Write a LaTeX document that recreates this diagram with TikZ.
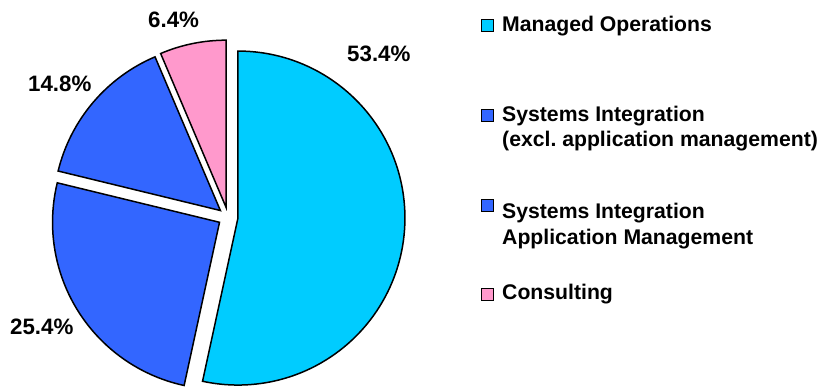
\documentclass[tikz,border=0pt]{standalone}
\usepackage{fontspec}
\setmainfont{Liberation Sans}
\usetikzlibrary{calc}
\definecolor{mocyan}{HTML}{00CCFF}
\definecolor{siblue}{HTML}{3366FF}
\definecolor{conpink}{HTML}{FF99CC}
\tikzset{
  slice/.style={draw=black, line width=1.5pt, line join=miter},
  pct/.style={font=\fontsize{22.3}{25}\selectfont\bfseries, anchor=base west, inner sep=0pt},
  legtext/.style={font=\fontsize{21.2}{25}\selectfont\bfseries, anchor=base west, inner sep=0pt},
  legbox/.style={draw=black, line width=1pt, minimum width=12pt, minimum height=12pt, inner sep=0pt, anchor=center},
}
\begin{document}
\begin{tikzpicture}[x=1pt,y=1pt]
\useasboundingbox (0,0) rectangle (822,390);
\def\R{167}
\coordinate (C) at (228,173);
% slice apexes (exploded by 10 along bisector)
\coordinate (acyan) at ($(C)+(-6.12:10)$);
\coordinate (ablueA) at ($(C)+(-147.96:10)$);
\coordinate (ablueB) at ($(C)+(139.68:10)$);
\coordinate (apink) at ($(C)+(101.52:10)$);
\filldraw[slice, fill=mocyan] (acyan) -- ++(90:\R) arc[start angle=90, end angle=-102.24, radius=\R] -- cycle;
\filldraw[slice, fill=siblue] (ablueA) -- ++(-102.24:\R) arc[start angle=-102.24, end angle=-193.68, radius=\R] -- cycle;
\filldraw[slice, fill=siblue] (ablueB) -- ++(166.32:\R) arc[start angle=166.32, end angle=113.04, radius=\R] -- cycle;
\filldraw[slice, fill=conpink] (apink) -- ++(113.04:\R) arc[start angle=113.04, end angle=90, radius=\R] -- cycle;
% percentage labels
\node[pct] (p1) at (347,328) {53.4\%};
\node[pct] (p2) at (10,55) {25.4\%};
\node[pct] (p3) at (28,298) {14.8\%};
\node[pct] (p4) at (148,362) {6.4\%};
% legend
\node[legbox, fill=mocyan] (b1) at (487.5,364.5) {};
\node[legtext] (t1) at (502,358) {Managed Operations};
\node[legbox, fill=siblue] (b2) at (487.5,274) {};
\node[legtext] (t2a) at (502,268) {Systems Integration};
\node[legtext] (t2b) at (502,243) {(excl.\ application management)};
\node[legbox, fill=siblue] (b3) at (487.5,184.5) {};
\node[legtext] (t3a) at (502,171) {Systems Integration};
\node[legtext] (t3b) at (502,145) {Application Management};
\node[legbox, fill=conpink] (b4) at (487.5,95) {};
\node[legtext] (t4) at (502,90) {Consulting};
\end{tikzpicture}
\end{document}
